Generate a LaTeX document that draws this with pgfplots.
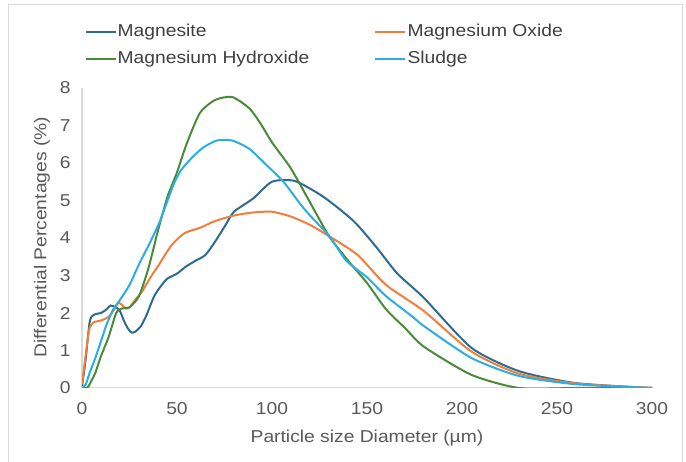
\documentclass[border=0pt]{standalone}
\usepackage{fontspec}
\setmainfont{Liberation Sans}[FakeStretch=1.12]
\usepackage{pgfplots}
\pgfplotsset{compat=1.18}
\definecolor{txt}{HTML}{595959}
\definecolor{cMgs}{HTML}{2F6B8F}
\definecolor{cOx}{HTML}{F07F3C}
\definecolor{cHy}{HTML}{4A8B3B}
\definecolor{cSl}{HTML}{2CAEE5}
\definecolor{frame}{HTML}{D9D9D9}
\begin{document}
\begin{tikzpicture}[x=1pt,y=1pt]
\useasboundingbox (0,0) rectangle (686,461);
\draw[frame, line width=0.8pt] (8,-2) -- (8,457) -- (682,457) -- (682,-2);
\begin{axis}[
  at={(82pt,73pt)}, anchor=south west,
  scale only axis, width=570pt, height=300pt,
  xmin=0, xmax=300, ymin=0, ymax=8,
  axis x line*=bottom, axis y line*=left,
  axis line style={draw=frame, line width=1pt, -},
  major tick length=0pt,
  xtick={0,50,...,300}, ytick={0,1,...,8},
  /pgf/number format/assume math mode=true,
  tick label style={font=\fontsize{17.2}{20}\selectfont, text=txt},
  xticklabel style={yshift=-11pt},
  yticklabel style={xshift=-8pt},
  xlabel={Particle size Diameter (µm)},
  ylabel={Differential Percentages (\%)},
  label style={font=\fontsize{17.2}{20}\selectfont, text=txt},
  xlabel style={at={(axis description cs:0.5,-0.1667)}, anchor=center},
  ylabel style={at={(axis description cs:-0.0702,0.503)}, anchor=center},
  legend columns=2,
  legend cell align=left,
  legend style={draw=none, fill=none, at={(axis description cs:0.004,1.215)}, anchor=north west,
    font=\fontsize{17.2}{20}\selectfont, text=black!75, inner sep=0pt,
    nodes={inner sep=1pt, text height=12pt, text depth=3pt},
    row sep=10pt,
    /tikz/column 2/.style={column sep=64pt}},
  legend image code/.code={\draw[#1, line width=2.2pt] (0pt,0pt) -- (30pt,0pt);},
  every axis plot/.append style={line width=2pt, smooth, tension=0.4},
]
\addplot[cMgs] coordinates {
(0,0.05)(1,0.4)(2,0.8)(3,1.3)(4,1.75)(5,1.9)(7,1.97)(10,2.0)(13,2.1)(15,2.2)(18,2.15)(20,2.05)(22,1.8)(24,1.6)(26,1.48)(28,1.5)(31,1.65)(34,1.95)(38,2.45)(42,2.75)(45,2.92)(50,3.05)(55,3.25)(60,3.4)(65,3.55)(70,3.9)(75,4.3)(80,4.7)(90,5.05)(100,5.5)(112,5.52)(127,5.1)(143,4.45)(155,3.75)(166,3.05)(180,2.4)(205,1.07)(230,0.45)(260,0.13)(300,0)};
\addlegendentry{Magnesite}
\addplot[cOx] coordinates {
(0,0.1)(1,0.5)(2,0.9)(3,1.3)(4,1.6)(6,1.75)(10,1.8)(14,1.9)(17,2.1)(19,2.27)(21,2.22)(23,2.12)(25,2.15)(28,2.35)(32,2.6)(36,2.95)(40,3.25)(47,3.8)(54,4.13)(62,4.27)(70,4.45)(80,4.6)(90,4.68)(100,4.7)(110,4.57)(120,4.35)(130,4.05)(145,3.55)(160,2.75)(180,2.05)(205,0.97)(230,0.38)(260,0.12)(300,0)};
\addlegendentry{Magnesium Oxide}
\addplot[cHy] coordinates {
(0,0)(3,0.02)(5,0.2)(7,0.4)(10,0.85)(14,1.36)(18,2.0)(21,2.12)(25,2.15)(30,2.45)(35,3.2)(40,4.2)(45,5.1)(50,5.75)(55,6.5)(62,7.33)(70,7.68)(79,7.76)(88,7.46)(94,7.05)(100,6.55)(110,5.85)(120,4.95)(130,4.05)(140,3.4)(150,2.8)(160,2.1)(170,1.6)(180,1.1)(205,0.35)(230,0)(260,0)(300,0)};
\addlegendentry{Magnesium Hydroxide}
\addplot[cSl] coordinates {
(0,0)(2,0.1)(4,0.4)(7,0.8)(10,1.25)(13,1.7)(16.5,2.1)(20,2.35)(25,2.75)(30,3.3)(36,3.9)(41,4.45)(48,5.4)(52,5.8)(58,6.15)(64,6.42)(71,6.6)(79,6.6)(88,6.38)(97,5.95)(106,5.5)(115,4.9)(120,4.6)(130.5,4.03)(139,3.4)(150,2.95)(160,2.45)(174,1.9)(180,1.65)(205,0.8)(230,0.32)(260,0.1)(300,0)};
\addlegendentry{Sludge}
\end{axis}
\end{tikzpicture}
\end{document}
